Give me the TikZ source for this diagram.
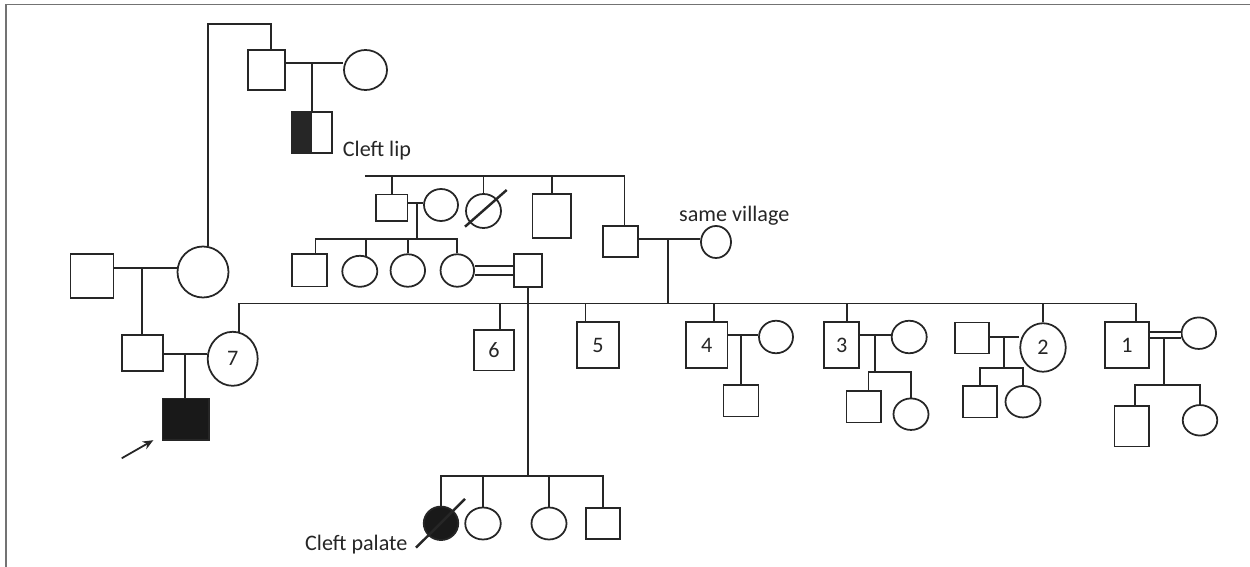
\documentclass[tikz,border=0pt]{standalone}
\usepackage{fontspec}
\setmainfont{Carlito}
\usetikzlibrary{arrows.meta,shapes.geometric}

\begin{document}
\begin{tikzpicture}[scale=0.2, line width=1pt, color=black!85,
  font=\fontsize{12.6}{15}\selectfont,
  male/.style={draw, rectangle},
  female/.style={draw, ellipse},
  wh/.style 2 args={minimum width=#1cm, minimum height=#2cm},
  affected/.style={fill=black!90},
  deceased/.style={line width=1.4pt},
  consang/.style={double, double distance=#1},
  consang/.default=3pt,
  pointer/.style={-{Stealth[length=6pt,width=5pt]}, shorten >=0.19cm}]
\tikzstyle{every node}+=[inner sep=0pt]
\useasboundingbox (0,0) rectangle (125,-56.7);
\draw [black!55] (0.6,-56.7) -- (0.6,-0.45) -- (125,-0.45);

% top left couple and their son
\node [male, wh={0.74}{0.80}] (gp1) at (26.65,-7.0) {};
\node [female, wh={0.86}{0.80}] (gm1) at (36.55,-7.0) {};
\node [male, wh={0.80}{0.82}, path picture={\fill (path picture bounding box.south west) rectangle (path picture bounding box.north);}] (lip) at (31.2,-13.25) {};
\coordinate (m0) at (31.2,-6.33);
\draw (m0 -| gp1.east) -- (m0 -| gm1.west);
\draw (m0) -- (m0 |- lip.north);
\node [anchor=base west] (liptext) at (34.2,-15.65) {Cleft lip};

% proband's side
\node [male, wh={0.86}{0.88}] (a0) at (9.2,-27.6) {};
\node [female, wh={1.02}{1.02}] (a1) at (20.3,-27.2) {};
\coordinate (s0) at (24,-2.4);
\draw (a1.79) |- (s0) -| (gp1.78);
\coordinate (ma) at (14.17,-26.83);
\draw (ma -| a0.east) -- (ma -| a1.west);
\node [male, wh={0.82}{0.72}] (b0) at (14.28,-35.3) {};
\draw (ma) -- (ma |- b0.north);
\node [female, wh={1.0}{1.08}] (b1) at (23.27,-35.88) {7};
\coordinate (mb) at (18.5,-35.4);
\draw (mb -| b0.east) -- (mb -| b1.west);
\node [male, affected, wh={0.93}{0.83}] (proband) at (18.57,-41.92) {};
\draw (mb) -- (mb |- proband.north);
\coordinate (arr) at (12.17,-45.83);
\draw [pointer] (arr) -- (proband.214);

% middle sibship
\coordinate (s2) at (36.5,-17.57);
\node [male, wh={0.63}{0.53}] (c1) at (39.17,-20.77) {};
\node [female, wh={0.68}{0.64}] (c2) at (44.1,-20.5) {};
\node [female, wh={0.70}{0.68}] (c3) at (48.35,-21.1) {};
\node [male, wh={0.77}{0.88}] (c4) at (55.17,-21.63) {};
\node [male, wh={0.70}{0.62}] (c5) at (62.08,-24.17) {};
\node [female, wh={0.60}{0.64}] (c6) at (71.6,-24.2) {};
\draw (s2) -| (c5.77);
\draw (c1.north) -- (c1.north |- s2);
\draw (c3.north) -- (c3.north |- s2);
\draw (c4.north) -- (c4.north |- s2);
\draw [deceased] (c3.center) +(-1.85,-1.57) -- +(2.32,2.1);
\node [anchor=base west] (village) at (67.83,-22.15) {same village};

% children of c1 and c2
\coordinate (mc) at (41.67,-20.27);
\draw (mc -| c1.east) -- (mc -| c2.west);
\coordinate (s3) at (41.67,-23.9);
\draw (mc) -- (s3);
\node [male, wh={0.70}{0.65}] (d1) at (30.92,-27.03) {};
\node [female, wh={0.70}{0.62}] (d2) at (35.98,-27.13) {};
\node [female, wh={0.69}{0.65}] (d3) at (40.78,-27.05) {};
\node [female, wh={0.67}{0.65}] (d4) at (45.73,-27.05) {};
\node [male, wh={0.56}{0.65}] (d5) at (52.8,-27.05) {};
\draw (d1.70) |- (s3) -| (d4.north);
\draw (d2.68) -- (d2.68 |- s3);
\draw (d3.north) -- (d3.north |- s3);
\draw [consang=3.9pt] (d4.east) -- (d5.west);

% children of d4 and d5
\coordinate (s5) at (52.8,-47.57);
\draw (d5.south) -- (s5);
\node [female, affected, wh={0.69}{0.67}] (e1) at (44.1,-52.33) {};
\node [female, wh={0.71}{0.64}] (e2) at (48.3,-52.35) {};
\node [female, wh={0.70}{0.64}] (e3) at (54.9,-52.35) {};
\node [male, wh={0.68}{0.63}] (e4) at (60.3,-52.35) {};
\draw (e1.north) |- (s5) -| (e4.north);
\draw (e2.north) -- (e2.north |- s5);
\draw (e3.north) -- (e3.north |- s5);
\draw [deceased] (e1.center) +(-2.5,-2.44) -- +(2.4,2.43);
\node [anchor=base east] (palate) at (40.83,-55.0) {Cleft palate};

% children of c5 and c6
\coordinate (md) at (66.77,-23.93);
\draw (md -| c5.east) -- (md -| c6.west);
\coordinate (s1) at (66.77,-30.35);
\draw (md) -- (s1);
\node [male, wh={0.80}{0.81}] (f6) at (49.4,-35.03) {6};
\node [male, wh={0.85}{0.91}] (f5) at (59.8,-34.5) {5};
\node [male, wh={0.83}{0.91}] (f4) at (70.67,-34.5) {4};
\node [male, wh={0.70}{0.91}] (f3) at (84.18,-34.5) {3};
\node [female, wh={0.91}{0.97}] (f2) at (104.3,-34.75) {2};
\node [male, wh={0.88}{0.91}] (f1) at (112.7,-34.5) {1};
\draw (b1.77) |- (s1) -| (f1.69);
\draw (f6.75) -- (f6.75 |- s1);
\draw (f5.118) -- (f5.118 |- s1);
\draw (f4.72) -- (f4.72 |- s1);
\draw (f3.78) -- (f3.78 |- s1);
\draw (f2.north) -- (f2.north |- s1);

% family of 4
\node [female, wh={0.68}{0.65}] (g4) at (77.6,-33.7) {};
\coordinate (mf4) at (74.07,-33.5);
\draw (mf4 -| f4.east) -- (mf4 -| g4.west);
\node [male, wh={0.70}{0.63}] (h4) at (74.1,-40.08) {};
\draw (mf4) -- (mf4 |- h4.north);

% family of 3
\node [female, wh={0.70}{0.65}] (g3) at (90.92,-33.7) {};
\coordinate (mf3) at (87.5,-33.5);
\draw (mf3 -| f3.east) -- (mf3 -| g3.west);
\coordinate (s6) at (87.5,-37.23);
\draw (mf3) -- (s6);
\node [male, wh={0.69}{0.63}] (h3a) at (86.38,-40.67) {};
\node [female, wh={0.70}{0.63}] (h3b) at (91.1,-41.42) {};
\draw (h3a.74) |- (s6) -| (h3b.north);

% family of 2
\node [male, wh={0.68}{0.62}] (g2) at (97.2,-33.8) {};
\coordinate (mf2) at (100.4,-33.67);
\draw (mf2 -| g2.east) -- (mf2 -| f2.west);
\coordinate (s7) at (100.4,-36.77);
\draw (mf2) -- (s7);
\node [male, wh={0.68}{0.63}] (h2a) at (97.97,-40.17) {};
\node [female, wh={0.70}{0.63}] (h2b) at (102.3,-40.17) {};
\draw (h2a.north) |- (s7) -| (h2b.north);

% family of 1
\node [female, wh={0.69}{0.63}] (g1) at (119.88,-33.32) {};
\coordinate (mf1) at (116.4,-33.53);
\coordinate (s8) at (116.4,-38.5);
\draw (mf1) -- (s8);
\draw [consang=2.4pt] (mf1 -| f1.east) -- (mf1 -| g1.west);
\node [male, wh={0.69}{0.81}] (h1a) at (113.17,-42.63) {};
\node [female, wh={0.69}{0.61}] (h1b) at (120.0,-42.03) {};
\draw (h1a.81) |- (s8) -| (h1b.north);
\end{tikzpicture}
\end{document}
